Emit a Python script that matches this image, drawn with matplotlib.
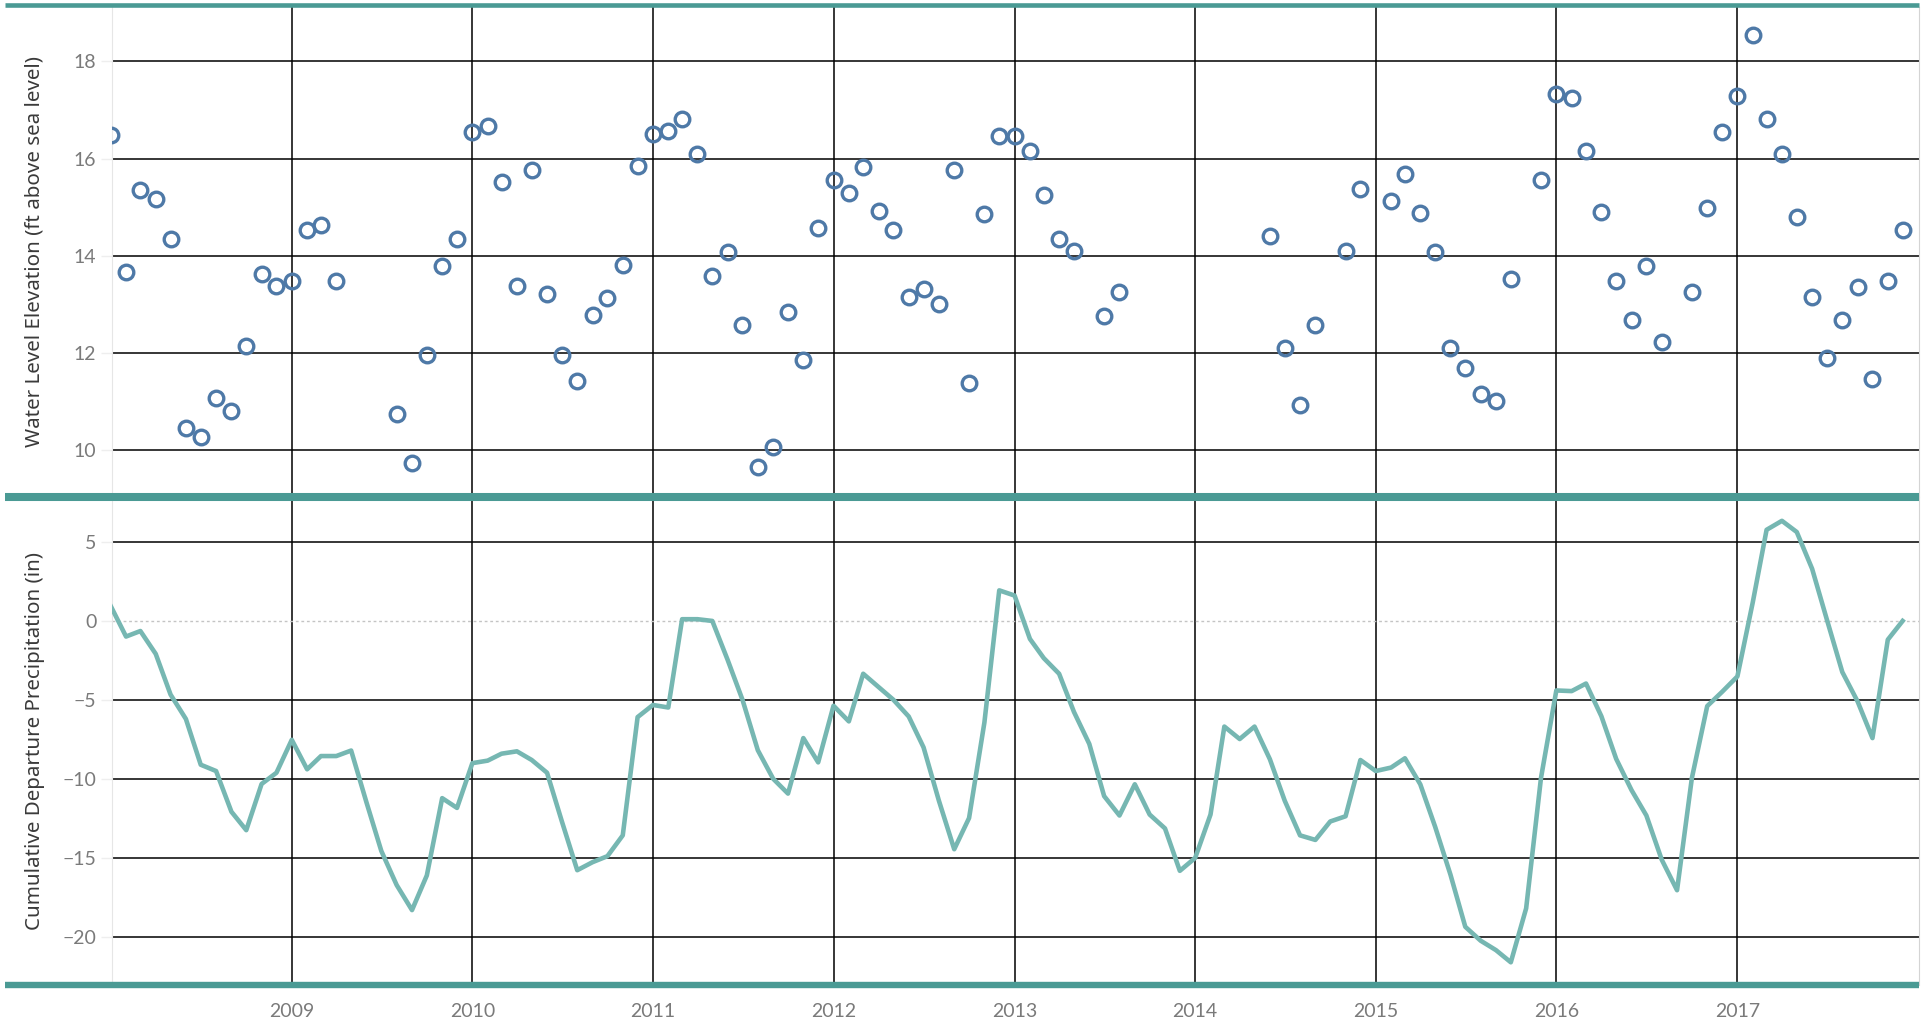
import numpy as np
import pandas as pd
import matplotlib
matplotlib.use('Agg')
import matplotlib.pyplot as plt
import matplotlib.dates as mdates
from matplotlib.lines import Line2D

nan = np.nan

# monthly water level elevation, Jan 2008 .. Dec 2017 (ft above sea level)
water_level = [
    16.48, 13.66, 15.35, 15.18, 14.34, 10.47, 10.27, 11.08, 10.81, 12.14, 13.62, 13.38,  # 2008
    13.48, 14.54, 14.64, 13.48, nan, nan, nan, 10.74, 9.73, 11.97, 13.79, 14.34,          # 2009
    16.54, 16.68, 15.52, 13.38, 15.76, 13.21, 11.97, 11.42, 12.78, 13.13, 13.82, 15.84,  # 2010
    16.51, 16.57, 16.81, 16.10, 13.59, 14.07, 12.58, 9.66, 10.07, 12.84, 11.86, 14.58,   # 2011
    15.56, 15.29, 15.83, 14.92, 14.54, 13.15, 13.32, 13.01, 15.76, 11.38, 14.86, 16.47,  # 2012
    16.47, 16.16, 15.26, 14.34, 14.10, nan, 12.77, 13.25, nan, nan, nan, nan,            # 2013
    nan, nan, nan, nan, nan, 14.40, 12.10, 10.94, 12.58, nan, 14.10, 15.37,              # 2014
    nan, 15.12, 15.69, 14.88, 14.07, 12.10, 11.70, 11.15, 11.01, 13.53, nan, 15.56,      # 2015
    17.32, 17.25, 16.16, 14.91, 13.49, 12.68, 13.79, 12.23, nan, 13.25, 14.98, 16.54,    # 2016
    17.28, 18.55, 16.81, 16.10, 14.81, 13.15, 11.90, 12.68, 13.36, 11.46, 13.49, 14.54,  # 2017
]

# cumulative departure from normal precipitation (in)
cum_departure = [
    0.97, -0.97, -0.62, -2.07, -4.65, -6.2, -9.1, -9.5, -12.08, -13.25, -10.32, -9.61,
    -7.52, -9.39, -8.55, -8.55, -8.2, -11.49, -14.57, -16.73, -18.32, -16.12, -11.22, -11.84,
    -9.0, -8.84, -8.4, -8.25, -8.8, -9.61, -12.7, -15.79, -15.28, -14.9, -13.58, -6.08,
    -5.31, -5.47, 0.13, 0.13, 0.02, -2.45, -4.98, -8.18, -9.99, -10.93, -7.41, -8.95,
    -5.36, -6.35, -3.33, -4.17, -4.98, -6.04, -8.0, -11.38, -14.46, -12.48, -6.42, 1.96,
    1.63, -1.12, -2.34, -3.33, -5.75, -7.78, -11.09, -12.32, -10.34, -12.26, -13.14, -15.83,
    -15.01, -12.26, -6.68, -7.47, -6.68, -8.75, -11.38, -13.58, -13.87, -12.7, -12.37, -8.8,
    -9.5, -9.28, -8.69, -10.34, -13.03, -16.07, -19.38, -20.26, -20.86, -21.63, -18.21, -9.94,
    -4.39, -4.43, -3.95, -6.02, -8.73, -10.71, -12.32, -15.12, -17.06, -9.94, -5.38, -4.48,
    -3.5, 1.19, 5.8, 6.37, 5.66, 3.33, 0.09, -3.22, -5.09, -7.41, -1.17, 0.02,
]

year_ticks = list(range(2009, 2018))
level_ticks = [10, 12, 14, 16, 18]
precip_ticks = [-20, -15, -10, -5, 0, 5]

df = pd.DataFrame({'Level': water_level, 'Departure': cum_departure},
                  index=pd.date_range('2008-01-01', periods=120, freq='MS'))

TEAL = '#4a9a94'
tick_font = dict(family='Lato', size=14, color='#7a7a7a')
title_font = dict(family='Noto Sans', size=14.8, color='#3a3a3a')

fig = plt.figure(figsize=(19.29, 10.24), dpi=100)
ax1 = fig.add_axes([0.0579, 0.5151, 0.9369, 0.4781])
ax2 = fig.add_axes([0.0579, 0.0381, 0.9369, 0.4770], sharex=ax1)

ax1.plot(df.index, df['Level'], linestyle='none', marker='o', ms=10.5,
         mfc='none', mec='#4e79a7', mew=2.4, zorder=3)
ax2.plot(df.index, df['Departure'], color='#76b7b2', lw=3.3, zorder=3)
ax2.axhline(0, color='#c4c4c4', lw=1, ls=(0, (2, 2)), zorder=2)

ax1.set_ylim(9.05, 19.12)
ax2.set_ylim(-23.07, 7.91)
ax1.set_yticks(level_ticks)
ax2.set_yticks(precip_ticks)
ax2.set_xlim(pd.Timestamp('2008-01-03'), pd.Timestamp('2018-01-03'))
ax2.set_xticks([pd.Timestamp(f'{y}-01-01') for y in year_ticks])
ax2.xaxis.set_major_formatter(mdates.DateFormatter('%Y'))

for ax in (ax1, ax2):
    ax.grid(True, color='black', lw=1.1, zorder=1)
    ax.set_axisbelow(True)
    for side in ('top', 'bottom'):
        ax.spines[side].set_visible(False)
    ax.spines['left'].set_color('#e6e6e6')
    ax.spines['right'].set_color('#d4d4d4')
    ax.tick_params(axis='y', length=8, width=1, color='#eeeeee', pad=3)
    ax.tick_params(axis='x', length=0, pad=13)
    for lab in ax.get_yticklabels() + ax.get_xticklabels():
        lab.set(**tick_font)

plt.setp(ax1.get_xticklabels(), visible=False)

# no black gridline on zero, the dotted line stands there
for line, t in zip(ax2.yaxis.get_gridlines(), ax2.get_yticks()):
    if t == 0:
        line.set_visible(False)

ax1.set_ylabel('Water Level Elevation (ft above sea level)', **title_font)
ax2.set_ylabel('Cumulative Departure Precipitation (in)', **title_font)
ax1.yaxis.set_label_coords(-0.0371, 0.5)
ax2.yaxis.set_label_coords(-0.0371, 0.5)

# teal header/footer borders, running into the axis-title column
x0 = 4.5 / 1929
x1 = ax1.get_position().x1
for y, w in ((ax1.get_position().y1 + 0.0015, 3.3),
             (ax1.get_position().y0, 5.8),
             (ax2.get_position().y0, 4.6)):
    fig.add_artist(Line2D([x0, x1], [y, y], transform=fig.transFigure,
                          color=TEAL, lw=w, solid_capstyle='butt'))

fig.savefig('out.png', dpi=100)
